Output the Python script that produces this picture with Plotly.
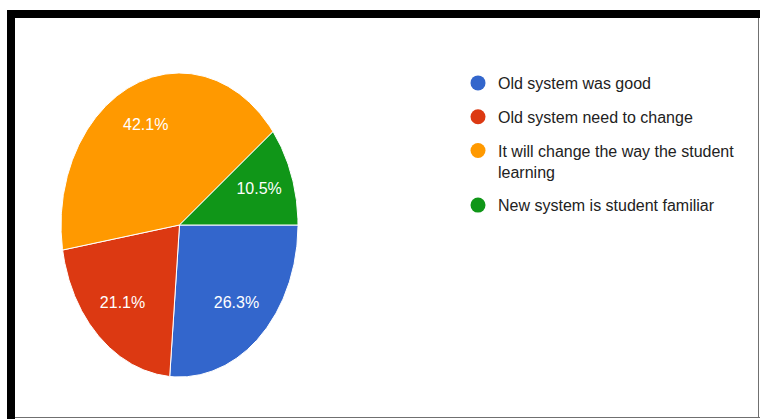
import numpy as np
import plotly.graph_objects as go

# ---- data ----
labels = ["Old system was good", "Old system need to change",
          "It will change the way the student<br>learning", "New system is student familiar"]
values = [5, 4, 8, 2]
colors = ["#3366cc", "#dc3912", "#ff9900", "#109618"]

# ---- layout constants (pixels) ----
W, H = 760, 419
CX, CY = 179.5, 225.0     # pie centre
RX, RY = 118.5, 152.0     # pie radii (elliptical as in reference)
LABEL_R = 0.71
FONT = "Liberation Sans, Arial, sans-serif"

fig = go.Figure()

total = float(sum(values))
start = 0.0  # degrees clockwise from 3 o'clock
for lab, v, c in zip(labels, values, colors):
    frac = v / total
    sweep = frac * 360.0
    th = np.radians(np.linspace(start, start + sweep, max(int(sweep * 2), 4)))
    xs = np.concatenate([[CX], CX + RX * np.cos(th), [CX]])
    ys = np.concatenate([[CY], CY + RY * np.sin(th), [CY]])
    fig.add_trace(go.Scatter(
        x=xs, y=ys, mode="lines", fill="toself", fillcolor=c,
        line=dict(color="white", width=1), showlegend=False,
        hoverinfo="text", text=f"{lab.replace('<br>', ' ')}: {v} ({frac*100:.1f}%)",
        hoveron="fills"))
    mid = np.radians(start + sweep / 2)
    fig.add_trace(go.Scatter(
        x=[CX + LABEL_R * RX * np.cos(mid)], y=[CY + LABEL_R * RY * np.sin(mid)],
        mode="text", text=[f"{frac*100:.1f}%"], textposition="middle center",
        textfont=dict(color="white", size=16, family=FONT),
        showlegend=False, hoverinfo="skip"))
    start += sweep

for lab, c in zip(labels, colors):
    fig.add_trace(go.Scatter(
        x=[None], y=[None], mode="markers", name=lab, legendgroup=lab,
        marker=dict(symbol="circle", size=15, color=c)))

shapes = [
    dict(type="rect", xref="paper", yref="paper", x0=7/W, x1=1, y0=1-10/H, y1=1-18/H,
         fillcolor="black", line=dict(width=0), layer="above"),
    dict(type="rect", xref="paper", yref="paper", x0=7/W, x1=15/W, y0=0, y1=1-10/H,
         fillcolor="black", line=dict(width=0), layer="above"),
    dict(type="line", xref="paper", yref="paper", x0=758.5/W, x1=758.5/W, y0=1-417.5/H, y1=1-18/H,
         line=dict(color="#707070", width=1)),
    dict(type="line", xref="paper", yref="paper", x0=15/W, x1=1, y0=1-417.5/H, y1=1-417.5/H,
         line=dict(color="#707070", width=1)),
]

fig.update_layout(
    width=W, height=H, margin=dict(l=0, r=0, t=0, b=0),
    paper_bgcolor="white", plot_bgcolor="white",
    xaxis=dict(range=[0, W], visible=False, fixedrange=True),
    yaxis=dict(range=[H, 0], visible=False, fixedrange=True),
    showlegend=True,
    legend=dict(x=458/W, xanchor="left", y=1-66/H, yanchor="top",
                font=dict(size=16, family=FONT, color="#222222"),
                tracegroupgap=10, itemsizing="trace", valign="top",
                bgcolor="rgba(0,0,0,0)"),
    shapes=shapes,
)

fig.write_html("out.html")
